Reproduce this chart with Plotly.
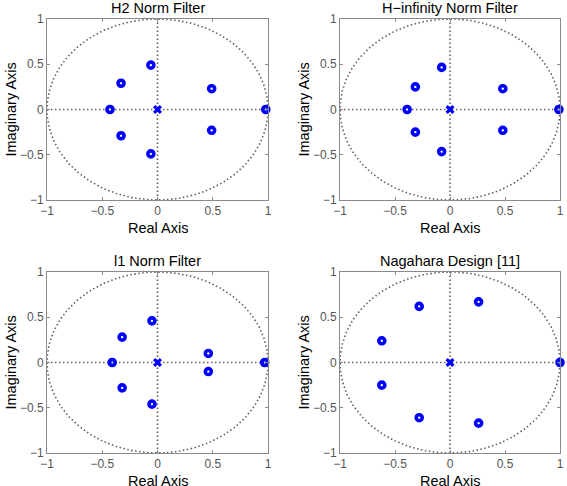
import numpy as np
import plotly.graph_objects as go

titles = ["H2 Norm Filter", "H\u2212infinity Norm Filter", "l1 Norm Filter", "Nagahara Design [11]"]

# zeros (real, imaginary) for each filter
h2_re = [-0.43, -0.33, -0.33, -0.06, -0.06, 0.49, 0.49, 0.98]
h2_im = [0.0, 0.29, -0.29, 0.49, -0.49, 0.23, -0.23, 0.0]
hinf_re = [-0.39, -0.315, -0.315, -0.076, -0.076, 0.48, 0.48, 0.99]
hinf_im = [0.0, 0.25, -0.25, 0.465, -0.465, 0.23, -0.23, 0.0]
l1_re = [-0.41, -0.32, -0.32, -0.05, -0.05, 0.46, 0.46, 0.97]
l1_im = [0.0, 0.28, -0.28, 0.46, -0.46, 0.10, -0.10, 0.0]
nag_re = [-0.62, -0.62, -0.28, -0.28, 0.26, 0.26, 1.0]
nag_im = [0.24, -0.25, 0.62, -0.61, 0.67, -0.67, 0.0]

# poles (all at origin)
pole_re = [0.0]
pole_im = [0.0]

zeros = [(h2_re, h2_im), (hinf_re, hinf_im), (l1_re, l1_im), (nag_re, nag_im)]

tick_vals = [-1, -0.5, 0, 0.5, 1]
tick_text = ["\u22121", "\u22120.5", "0", "0.5", "1"]

W, H = 567, 486
# plot areas in pixels: (left, right, top, bottom)
boxes = [(47, 268, 19, 200), (340, 560, 19, 200), (47, 268, 272, 453), (340, 560, 272, 453)]

theta = np.linspace(0, 2 * np.pi, 361)
circ_x = np.cos(theta)
circ_y = np.sin(theta)

fig = go.Figure()
dot_line = dict(color="#606060", width=1.6, dash="1.5px,2.5px")
annotations = []
font_family = "Liberation Sans, Arial, sans-serif"

for i in range(4):
    xa = "x" if i == 0 else f"x{i+1}"
    ya = "y" if i == 0 else f"y{i+1}"
    fig.add_trace(go.Scatter(x=circ_x, y=circ_y, mode="lines", line=dot_line,
                             xaxis=xa, yaxis=ya, showlegend=False, hoverinfo="skip"))
    fig.add_trace(go.Scatter(x=[-1, 1], y=[0, 0], mode="lines", line=dot_line,
                             xaxis=xa, yaxis=ya, showlegend=False, hoverinfo="skip"))
    fig.add_trace(go.Scatter(x=[0, 0], y=[-1, 1], mode="lines", line=dot_line,
                             xaxis=xa, yaxis=ya, showlegend=False, hoverinfo="skip"))
    zr, zi = zeros[i]
    fig.add_trace(go.Scatter(x=zr, y=zi, mode="markers", xaxis=xa, yaxis=ya, showlegend=False,
                             marker=dict(symbol="circle-open", size=6, color="#0000ff",
                                         line=dict(width=3.6, color="#0000ff")),
                             cliponaxis=False))
    fig.add_trace(go.Scatter(x=pole_re, y=pole_im, mode="markers", xaxis=xa, yaxis=ya, showlegend=False,
                             marker=dict(symbol="x", size=8, color="#0000ff",
                                         line=dict(width=0))))
    l, r, t, b = boxes[i]
    xdom = [l / W, r / W]
    ydom = [1 - b / H, 1 - t / H]
    axcommon = dict(range=[-1, 1], tickvals=tick_vals, ticktext=tick_text, showgrid=False,
                    zeroline=False, showline=True, linecolor="#8a8a8a", linewidth=1, mirror="ticks",
                    ticks="inside", ticklen=3, tickcolor="#8a8a8a", automargin=False,
                    tickfont=dict(family=font_family, size=12, color="#555555"))
    key = "" if i == 0 else str(i + 1)
    fig.update_layout(**{
        f"xaxis{key}": dict(domain=xdom, anchor=ya, **axcommon),
        f"yaxis{key}": dict(domain=ydom, anchor=xa, **axcommon),
    })
    cx = (l + r) / 2
    cy = (t + b) / 2
    annotations.append(dict(text=titles[i], x=cx / W, y=1 - (t - 11) / H, xref="paper", yref="paper",
                            showarrow=False, xanchor="center", yanchor="middle",
                            font=dict(family=font_family, size=14.5, color="#000000")))
    annotations.append(dict(text="Real Axis", x=cx / W, y=1 - (b + 28) / H, xref="paper", yref="paper",
                            showarrow=False, xanchor="center", yanchor="middle",
                            font=dict(family=font_family, size=14.5, color="#000000")))
    annotations.append(dict(text="Imaginary Axis", x=(l - 37) / W, y=1 - cy / H, xref="paper", yref="paper",
                            showarrow=False, xanchor="center", yanchor="middle", textangle=-90,
                            font=dict(family=font_family, size=14.5, color="#000000")))

fig.update_layout(width=W, height=H, margin=dict(l=0, r=0, t=0, b=0, autoexpand=False),
                  paper_bgcolor="white", plot_bgcolor="white", annotations=annotations)
fig.write_html("out.html", config={"displayModeBar": False},
               post_script="document.body.style.margin='0';document.body.style.overflow='hidden';")
